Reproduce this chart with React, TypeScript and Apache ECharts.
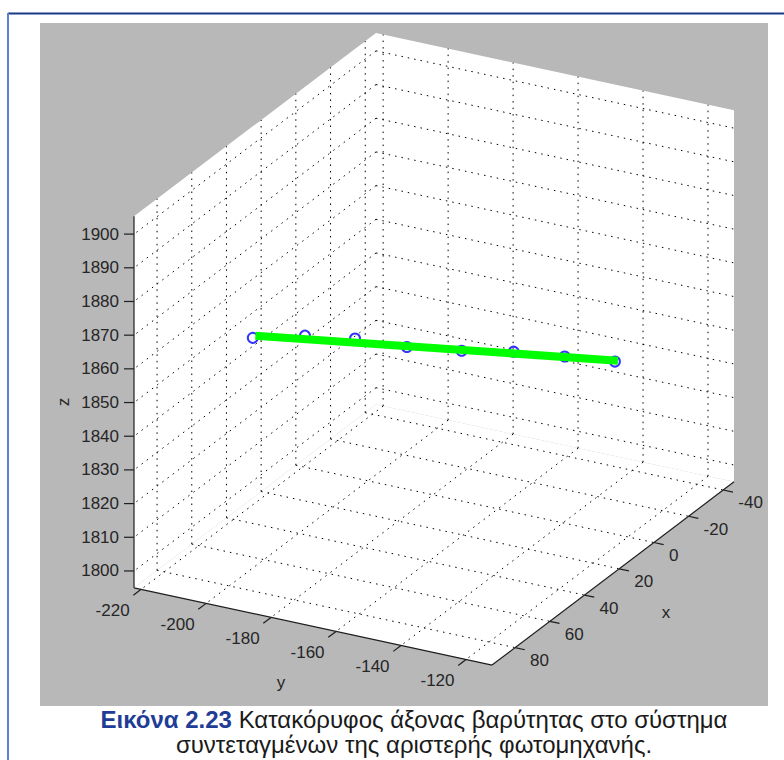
import React, { useEffect, useRef } from "react";
import * as echarts from "echarts";

// ---- axis limits and ticks (data units) ----
const xLimits = [-46.2, 93.3];
const yLimits = [-222.2, -112.0];
const zLimits = [1795.0, 1905.3];
const xTicks = [-40, -20, 0, 20, 40, 60, 80];
const yTicks = [-220, -200, -180, -160, -140, -120];
const zTicks = [1800, 1810, 1820, 1830, 1840, 1850, 1860, 1870, 1880, 1890, 1900];

// ---- measured points (blue circles) ----
const pointX = [34.0, 32.4, 30.5, 28.9, 27.3, 25.4, 23.9, 22.1];
const pointY = [-217.3, -202.1, -187.7, -172.6, -156.6, -141.6, -126.7, -112.2];
const pointZ = [1847.1, 1850.3, 1851.7, 1851.7, 1853.3, 1855.4, 1856.5, 1857.3];

// ---- fitted vertical (gravity) axis, green line ----
const fitX = [34.0, 22.0];
const fitY = [-216.5, -111.3];
const fitZ = [1847.9, 1857.7];

const axisNames = ["x", "y", "z"];
const captionLabel = "Εικόνα 2.23";
const captionLine1 = " Κατακόρυφος άξονας βαρύτητας στο σύστημα";
const captionLine2 = "συντεταγμένων της αριστερής φωτομηχανής.";

// ---- view / layout ----
const AZ_DEG = 28.1;
const EL_DEG = 23.85;
const SCALE = 3.683; // px per data unit
const BOX_LEFT = 134;
const BOX_TOP = 33;
const FONT_FAMILY = '"Liberation Sans", Arial, Helvetica, sans-serif';
const TICK_FONT = "17px " + FONT_FAMILY;
const TICK_COLOR = "#262626";
const CAPTION_SIZE = 24;

const rad = Math.PI / 180;
const SA = Math.sin(AZ_DEG * rad);
const CA = Math.cos(AZ_DEG * rad);
const SE = Math.sin(EL_DEG * rad);
const CE = Math.cos(EL_DEG * rad);

function project(x: number, y: number, z: number): [number, number] {
  const u = y * CA - x * SA;
  const v = z * CE - (y * SA + x * CA) * SE;
  return [u, v];
}

function extents() {
  let uMin = Infinity, uMax = -Infinity, vMin = Infinity, vMax = -Infinity;
  for (const x of xLimits) for (const y of yLimits) for (const z of zLimits) {
    const [u, v] = project(x, y, z);
    uMin = Math.min(uMin, u); uMax = Math.max(uMax, u);
    vMin = Math.min(vMin, v); vMax = Math.max(vMax, v);
  }
  return { uMin, uMax, vMin, vMax };
}

function textEl(x: number, y: number, text: string, align: string, extra: any = {}) {
  return {
    type: "text",
    x,
    y,
    silent: true,
    ...extra,
    style: {
      text,
      fill: TICK_COLOR,
      font: TICK_FONT,
      align,
      textAlign: align,
      verticalAlign: "middle",
      textVerticalAlign: "middle",
    },
  };
}

function renderBox(_params: any, api: any) {
  const [x0, x1] = xLimits;
  const [y0, y1] = yLimits;
  const [z0, z1] = zLimits;
  const P = (x: number, y: number, z: number) => api.coord(project(x, y, z)) as number[];
  const kids: any[] = [];
  const pane = (pts: number[][]) =>
    kids.push({ type: "polygon", silent: true, shape: { points: pts }, style: { fill: "#ffffff", stroke: "none" } });
  const seg = (a: number[], b: number[], style: any) =>
    kids.push({ type: "line", silent: true, shape: { x1: a[0], y1: a[1], x2: b[0], y2: b[1] }, style });

  // back panes
  pane([P(x0, y0, z0), P(x1, y0, z0), P(x1, y1, z0), P(x0, y1, z0)]);
  pane([P(x0, y0, z0), P(x1, y0, z0), P(x1, y0, z1), P(x0, y0, z1)]);
  pane([P(x0, y0, z0), P(x0, y1, z0), P(x0, y1, z1), P(x0, y0, z1)]);

  // dotted grid
  const gridStyle = { stroke: "#000000", lineWidth: 1, lineDash: [1.5, 5], fill: "none" };
  xTicks.forEach((t) => {
    seg(P(t, y0, z0), P(t, y1, z0), gridStyle);
    seg(P(t, y0, z0), P(t, y0, z1), gridStyle);
  });
  yTicks.forEach((t) => {
    seg(P(x0, t, z0), P(x1, t, z0), gridStyle);
    seg(P(x0, t, z0), P(x0, t, z1), gridStyle);
  });
  zTicks.forEach((t) => {
    seg(P(x0, y0, t), P(x1, y0, t), gridStyle);
    seg(P(x0, y0, t), P(x0, y1, t), gridStyle);
  });

  // axis lines
  const axisStyle = { stroke: "#1e1e1e", lineWidth: 1.2, fill: "none" };
  seg(P(x1, y0, z0), P(x1, y1, z0), axisStyle);
  seg(P(x1, y1, z0), P(x0, y1, z0), axisStyle);
  seg(P(x1, y0, z0), P(x1, y0, z1), axisStyle);

  // ticks + labels
  yTicks.forEach((t) => {
    const b = P(x1, t, z0);
    seg(b, P(x1 + 4.5, t, z0), axisStyle);
    kids.push(textEl(b[0] - 11.5, b[1] + 21, String(t), "right"));
  });
  xTicks.forEach((t) => {
    const b = P(t, y1, z0);
    seg(b, P(t, y1 + 3, z0), axisStyle);
    kids.push(textEl(b[0] + 15, b[1] + 13, String(t), "left"));
  });
  zTicks.forEach((t) => {
    const b = P(x1, y0, t);
    seg([b[0] - 10, b[1]], b, axisStyle);
    kids.push(textEl(b[0] - 15, b[1], String(t), "right"));
  });

  // axis names
  const xm = P((x0 + x1) / 2, y1, z0);
  kids.push(textEl(xm[0] + 53, xm[1] + 39, axisNames[0], "center"));
  const ym = P(x1, (y0 + y1) / 2, z0);
  kids.push(textEl(ym[0] - 32, ym[1] + 56, axisNames[1], "center"));
  const zm = P(x1, y0, (z0 + z1) / 2);
  kids.push(textEl(zm[0] - 71, zm[1], axisNames[2], "center", { rotation: Math.PI / 2 }));

  return { type: "group", children: kids };
}

function buildOption() {
  const { uMin, uMax, vMin, vMax } = extents();
  const points = pointX.map((x, i) => project(x, pointY[i], pointZ[i]));
  const fit = fitX.map((x, i) => project(x, fitY[i], fitZ[i]));
  return {
    animation: false,
    backgroundColor: "#ffffff",
    grid: {
      left: BOX_LEFT,
      top: BOX_TOP,
      width: (uMax - uMin) * SCALE,
      height: (vMax - vMin) * SCALE,
      containLabel: false,
    },
    xAxis: { type: "value", min: uMin, max: uMax, show: false },
    yAxis: { type: "value", min: vMin, max: vMax, show: false },
    graphic: [
      { type: "rect", z: -10, silent: true, shape: { x: 40, y: 23, width: 728, height: 683 }, style: { fill: "#b8b8b8" } },
      { type: "line", z: -5, silent: true, shape: { x1: 8, y1: 13.5, x2: 784, y2: 13.5 }, style: { stroke: "#173a86", lineWidth: 2 } },
      { type: "line", z: -5, silent: true, shape: { x1: 8, y1: 13, x2: 8, y2: 760 }, style: { stroke: "#5d82d2", lineWidth: 2 } },
      {
        type: "text",
        x: 414,
        y: 719,
        silent: true,
        style: {
          text: "{b|" + captionLabel + "}{n|" + captionLine1 + "}",
          align: "center",
          textAlign: "center",
          verticalAlign: "middle",
          textVerticalAlign: "middle",
          rich: {
            b: { fontFamily: FONT_FAMILY, fontSize: CAPTION_SIZE, fontWeight: "bold", fill: "#1f3d96" },
            n: { fontFamily: FONT_FAMILY, fontSize: CAPTION_SIZE, fill: "#1a1a1a" },
          },
        },
      },
      {
        type: "text",
        x: 414,
        y: 744,
        silent: true,
        style: {
          text: captionLine2,
          fill: "#1a1a1a",
          font: CAPTION_SIZE + "px " + FONT_FAMILY,
          align: "center",
          textAlign: "center",
          verticalAlign: "middle",
          textVerticalAlign: "middle",
        },
      },
    ],
    series: [
      {
        type: "custom",
        coordinateSystem: "cartesian2d",
        data: [[uMin, vMin]],
        clip: false,
        silent: true,
        z: 1,
        renderItem: renderBox,
      },
      {
        type: "scatter",
        data: points,
        symbol: "circle",
        symbolSize: 10,
        silent: true,
        z: 3,
        itemStyle: { color: "rgba(0,0,0,0)", borderColor: "#0000ff", borderWidth: 2 },
      },
      {
        type: "line",
        data: fit,
        symbol: "none",
        silent: true,
        z: 4,
        lineStyle: { color: "#00ff00", width: 8, cap: "butt" },
      },
    ],
  };
}

export default function App() {
  const ref = useRef<HTMLDivElement>(null);
  useEffect(() => {
    if (!ref.current) return;
    const chart = echarts.init(ref.current, null, { renderer: "svg" });
    chart.setOption(buildOption() as any);
    return () => chart.dispose();
  }, []);
  return (
    <div
      ref={ref}
      style={{ position: "fixed", left: 0, top: 0, width: 784, height: 760 }}
    />
  );
}
